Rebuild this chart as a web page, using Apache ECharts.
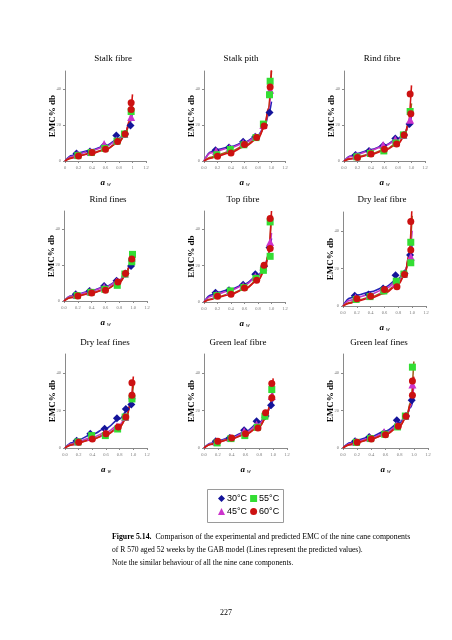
<!DOCTYPE html>
<html><head><meta charset="utf-8">
<script src="https://cdn.jsdelivr.net/npm/echarts@6/dist/echarts.min.js"></script>
<style>html,body{margin:0;padding:0;background:#fff}#c{width:452px;height:640px}</style>
</head><body><div id="c"></div>
<script>
// ---------- DATA ----------
const panelTitles = ['Stalk fibre','Stalk pith','Rind fibre','Rind fines','Top fibre','Dry leaf fibre','Dry leaf fines','Green leaf fibre','Green leaf fines'];
const tempLabels = ['30°C','45°C','55°C','60°C'];
const yTicks = [0, 20, 40];
const xTickMax = 1.2;
const yMax = 50;

// water activity of the GAB model curves
const awFit = [0, 0.1, 0.2, 0.4, 0.6, 0.8, 0.9, 0.95, 1.0];
// experimental water activities per temperature
const aw30 = [0.17, 0.37, 0.58, 0.76, 0.89, 0.97];
const aw45 = [0.18, 0.38, 0.58, 0.76, 0.88, 0.98];
const aw55 = [0.19, 0.39, 0.59, 0.77, 0.88, 0.98];
const aw60 = [0.20, 0.40, 0.60, 0.78, 0.89, 0.98];

// experimental EMC (% db): [30, 45, 55, 60]
const stalkFibreEmc = [[4.1,5.3,8.5,14.1,15,19.7],[3.5,5,9.4,11.5,15,24.4],[3,4.7,7,11,15,27.5],[2.8,4.7,6.5,10.9,15,32.3]];
const stalkPithEmc = [[6.0,7.5,10.7,13.5,20,26.9],[5.5,7.2,10,13.5,20,39.6],[3.5,6.4,9,13,20.5,44.3],[2.6,4.5,9.2,13,19.4,41.1]];
const rindFibreEmc = [[3.3,5.6,8.5,12.5,14.5,20.5],[3.0,5.2,8.9,12,14.5,22.9],[2.3,4.2,5.6,10,14.5,27.5],[2.0,3.9,6.5,9.5,14.5,37.2]];
const rindFinesEmc = [[3.7,5.6,8.4,11.2,15.3,19.5],[3.3,5.3,7.8,10.8,15.3,24.2],[3.0,4.8,6.5,8.7,15,21.8],[2.8,4.5,6.0,10.6,15.3,23.3]];
const topFibreEmc = [[5.1,6.4,9.5,15.2,19.6,29.9],[4.0,6.0,8.8,14,19.5,33],[3.5,6.1,8.0,13,17.4,25.1],[3.1,4.2,7.7,11.9,20.2,45.9]];
const dryLeafFibreEmc = [[5.5,6.1,9.3,16.4,17.3,27.1],[4.5,5.5,8.5,12,17,26.2],[3.5,5,8,13.2,17,33.9],[3.9,5.2,8.8,10.2,16.8,45]];
const dryLeafFinesEmc = [[3.9,7.6,10.3,15.8,20.8,23.1],[3.4,6.0,8.0,11.5,16.5,28],[3.2,6.6,6.6,10.1,16.5,26.1],[3.0,4.8,7.6,11.2,16.5,34.7]];
const greenLeafFibreEmc = [[3.6,5.3,9.4,14.2,17,22.8],[3.3,5.5,8.9,12.5,18,27.6],[2.7,5.0,6.6,11,16.9,31.1],[3.6,5.3,7.6,10.7,18.7,34.3]];
const greenLeafFinesEmc = [[3.6,5.9,8.0,14.8,17,25.4],[3.3,5.5,8.5,12,17,33.8],[3.0,5.0,7.3,11.2,17,43],[3.0,4.8,7.1,11.6,16.9,35.6]];

// repeated measurements: [temperature index, aw, EMC]
const stalkFibreExtra = [[3,0.98,28.6]];
const stalkPithExtra = [[2,0.97,36.8]];
const rindFibreExtra = [[3,0.99,26.2]];
const rindFinesExtra = [[2,0.99,25.9]];
const topFibreExtra = [[3,0.98,29.4],[2,0.98,44]];
const dryLeafFibreExtra = [[3,0.98,29.8],[2,0.98,23]];
const dryLeafFinesExtra = [[3,0.98,28.1]];
const greenLeafFibreExtra = [[3,0.98,26.7]];
const greenLeafFinesExtra = [[3,0.98,28.1]];

// GAB predicted EMC at awFit: [30, 45, 55, 60]
const stalkFibreFit = [[0,3.0,4.5,6.2,8.5,12.5,16,20,27],[0,2.5,4.0,5.8,8.0,12,16,21,30],[0,1.8,3.0,4.5,6.5,10.5,15,21,33],[0,1.6,2.8,4.3,6.3,10.5,15.5,22,37]];
const stalkPithFit = [[0,5.0,6.3,8.0,10.5,14.5,19,25,33],[0,4.5,5.8,7.5,10,14,19,27,42],[0,2.0,3.5,5.5,8.5,13,19,28,50],[0,1.5,2.8,4.8,8.0,12.5,19,29,52]];
const rindFibreFit = [[0,2.8,4.2,6.3,8.8,12.5,15.5,19,25],[0,2.5,3.8,6.0,8.5,12,15,19,27],[0,1.3,2.3,4.0,6.3,10,14,20,32],[0,1.2,2.0,3.6,5.8,9.5,14,21,42]];
const rindFinesFit = [[0,2.8,4.0,5.8,8.0,11.5,15.5,19,24],[0,2.6,3.7,5.5,7.8,11.2,15.3,19.5,26],[0,2.0,3.0,4.6,6.6,10.3,14.8,19.5,27],[0,1.8,2.8,4.4,6.4,10.2,14.8,19.8,27]];
const topFibreFit = [[0,3.8,5.3,7.0,9.8,14.5,19.5,25,35],[0,3.0,4.5,6.5,9.3,14,19,25,38],[0,1.6,2.8,4.5,7.3,12,17.5,25,48],[0,1.4,2.6,4.3,7.0,11.8,17.5,26,50]];
const dryLeafFibreFit = [[0,4.2,5.8,7.5,10,14.5,19,24,33],[0,3.0,4.5,6.3,9.0,13.5,18.5,25,40],[0,1.8,3.0,4.8,7.3,12,17.5,26,48],[0,1.5,2.7,4.3,6.7,11.5,17,27,55]];
const dryLeafFinesFit = [[0,2.8,4.5,7.3,10.5,15.5,19.5,22,26],[0,2.2,3.6,5.7,8.3,12.5,17,22,30],[0,1.8,3.0,4.8,7.2,11.2,16,22,33],[0,1.6,2.8,4.6,7.0,11,16,23,38]];
const greenLeafFibreFit = [[0,2.5,3.8,5.8,8.8,13.5,17.5,21,26],[0,2.3,3.5,5.4,8.2,12.8,17,21.5,29],[0,2.0,3.2,5.0,7.4,11.5,16.3,22,33],[0,1.9,3.1,4.9,7.2,11.2,16.2,22.5,37]];
const greenLeafFinesFit = [[0,2.8,4.2,6.2,9.0,13.5,17.5,21.5,27],[0,2.3,3.6,5.5,8.2,12.5,17,22,33],[0,1.8,3.0,4.8,7.3,11.8,16.8,24,46],[0,1.8,3.0,4.8,7.2,11.6,16.8,23,38]];

// ---------- ASSEMBLY ----------
const awExp = [aw30, aw45, aw55, aw60];
const panelEmc = [stalkFibreEmc, stalkPithEmc, rindFibreEmc, rindFinesEmc, topFibreEmc, dryLeafFibreEmc, dryLeafFinesEmc, greenLeafFibreEmc, greenLeafFinesEmc];
const panelExtra = [stalkFibreExtra, stalkPithExtra, rindFibreExtra, rindFinesExtra, topFibreExtra, dryLeafFibreExtra, dryLeafFinesExtra, greenLeafFibreExtra, greenLeafFinesExtra];
const panelFit = [stalkFibreFit, stalkPithFit, rindFibreFit, rindFinesFit, topFibreFit, dryLeafFibreFit, dryLeafFinesFit, greenLeafFibreFit, greenLeafFinesFit];

const layout = [
  {left:65, top:71, width:81, height:90},
  {left:204, top:71, width:81, height:90},
  {left:344, top:71, width:81, height:90},
  {left:64, top:211, width:83, height:90},
  {left:204, top:211, width:81, height:91},
  {left:343, top:212, width:83, height:94},
  {left:65, top:354, width:82, height:94},
  {left:204, top:354, width:83, height:94},
  {left:343, top:354, width:85, height:94}
];
const titlePos = [[113,59],[241,59],[382,59],[108,200],[243,200],[382,200],[105,343],[238,343],[379,343]];

const markerColor = ['#14149a', '#cc33cc', '#33dd33', '#cc1111'];
const lineColor = ['#2424b8', '#c535c5', '#a0641e', '#d41414'];
const symbols = ['diamond', 'triangle', 'rect', 'circle'];
const symbolSizes = [8, 8, 7, 7];
const serif = '"Liberation Serif","DejaVu Serif",serif';

const grids = [], xAxes = [], yAxes = [], series = [], graphics = [];
layout.forEach((g, p) => {
  grids.push(Object.assign({}, g));
  xAxes.push({
    type: 'value', gridIndex: p, min: 0, max: xTickMax, interval: 0.2,
    splitLine: {show: false},
    axisLine: {show: true, onZero: false, lineStyle: {color: '#8a8a8a', width: 1}},
    axisTick: {show: true, length: 2, lineStyle: {color: '#8a8a8a'}},
    axisLabel: {fontSize: 4.5, color: '#777', fontFamily: serif, margin: 4,
      formatter: v => p === 0 ? String(+v.toFixed(1)) : v.toFixed(1)},
    name: '{a|a}{w|w}', nameLocation: 'middle', nameGap: 16, nameMoveOverlap: false,
    nameTextStyle: {rich: {
      a: {fontFamily: serif, fontStyle: 'italic', fontWeight: 'bold', fontSize: 9, color: '#000'},
      w: {fontFamily: serif, fontStyle: 'italic', fontSize: 5.5, color: '#000', padding: [5, 0, 0, 2]}
    }}
  });
  yAxes.push({
    type: 'value', gridIndex: p, min: 0, max: yMax,
    splitLine: {show: false},
    axisLine: {show: true, lineStyle: {color: '#8a8a8a', width: 1}},
    axisTick: {show: true, length: 2, customValues: yTicks, lineStyle: {color: '#8a8a8a'}},
    axisLabel: {fontSize: 4.5, color: '#777', fontFamily: serif, margin: 4, customValues: yTicks},
    name: 'EMC% db', nameLocation: 'middle', nameGap: 8, nameRotate: 90, nameMoveOverlap: false,
    nameTextStyle: {fontFamily: serif, fontWeight: 'bold', fontSize: 9, color: '#000'}
  });
  const fit = panelFit[p];
  for (let t = 0; t < 4; t++) {
    series.push({
      type: 'line', name: 'fit' + t, xAxisIndex: p, yAxisIndex: p,
      data: awFit.map((a, i) => [a, fit[t][i]]),
      smooth: 0.35, smoothMonotone: 'x', showSymbol: false, symbol: 'none', clip: true,
      lineStyle: {color: lineColor[t], width: 1.6}, z: 2, silent: true
    });
  }
  const emc = panelEmc[p];
  for (let t = 0; t < 4; t++) {
    const pts = awExp[t].map((a, i) => [a, emc[t][i]]);
    panelExtra[p].filter(e => e[0] === t).forEach(e => pts.push([e[1], e[2]]));
    series.push({
      type: 'scatter', name: tempLabels[t], xAxisIndex: p, yAxisIndex: p,
      data: pts, symbol: symbols[t], symbolSize: symbolSizes[t],
      itemStyle: {color: markerColor[t], opacity: 1}, z: 3 + t, silent: true
    });
  }
  graphics.push({
    type: 'text', x: titlePos[p][0], y: titlePos[p][1],
    style: {text: panelTitles[p], font: '9px ' + serif, fill: '#000', textAlign: 'center', textVerticalAlign: 'middle'}
  });
});

// legend frame
graphics.push({type: 'rect', shape: {x: 207.5, y: 489.5, width: 76, height: 33},
  style: {fill: 'none', stroke: '#9a9a9a', lineWidth: 1}});
// caption
graphics.push({type: 'text', x: 112, y: 537, style: {
  text: '{b|Figure 5.14.}  Comparison of the experimental and predicted EMC of the nine cane components',
  font: '7.8px ' + serif, fill: '#000', textVerticalAlign: 'middle',
  rich: {b: {fontWeight: 'bold', fontFamily: serif, fontSize: 7.8}}}});
graphics.push({type: 'text', x: 112, y: 550, style: {
  text: 'of R 570 aged 52 weeks by the GAB model (Lines represent the predicted values).',
  font: '7.6px ' + serif, fill: '#000', textVerticalAlign: 'middle'}});
graphics.push({type: 'text', x: 112, y: 563, style: {
  text: 'Note the similar behaviour of all the nine cane components.',
  font: '7.6px ' + serif, fill: '#000', textVerticalAlign: 'middle'}});
graphics.push({type: 'text', x: 226, y: 613, style: {
  text: '227', font: '8px ' + serif, fill: '#000', textAlign: 'center', textVerticalAlign: 'middle'}});

const legendCommon = {
  itemWidth: 7, itemHeight: 7, itemGap: 3, padding: 0, selectedMode: false,
  textStyle: {fontFamily: '"Liberation Sans",Arial,sans-serif', fontSize: 9, color: '#000', padding: [0, 0, 0, -3]}
};

const chart = echarts.init(document.getElementById('c'), null, {renderer: 'canvas'});
chart.setOption({
  backgroundColor: '#fff',
  animation: false,
  grid: grids, xAxis: xAxes, yAxis: yAxes, series: series,
  legend: [
    Object.assign({left: 218, top: 494, data: [tempLabels[0], tempLabels[2]]}, legendCommon),
    Object.assign({left: 218, top: 507, data: [tempLabels[1], tempLabels[3]]}, legendCommon)
  ],
  graphic: graphics
});
</script></body></html>
